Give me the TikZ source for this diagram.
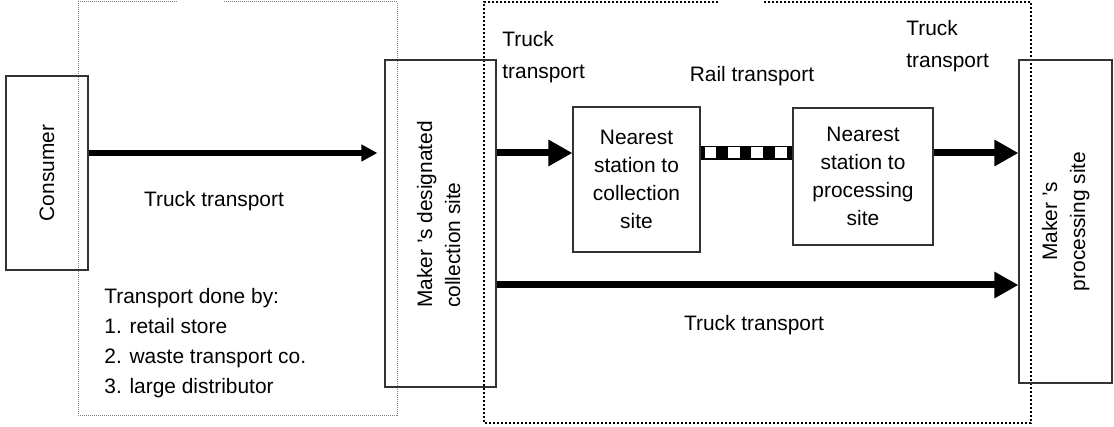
\documentclass[tikz,border=0pt]{standalone}
\usepackage{fontspec}
\setmainfont{Liberation Sans}
\usepackage{graphicx}
\usetikzlibrary{arrows.meta}
\tikzset{
  site/.style={draw=black!80, line width=0.6pt, inner sep=0pt, align=center},
  carry/.style={line width=3pt, -{Triangle[length=8pt,width=8pt]}},
  bigcarry/.style={line width=3.5pt, -{Triangle[length=12pt,width=12.5pt]}},
  lbl/.style={inner sep=0pt}
}
\begin{document}
\begin{tikzpicture}[x=0.5pt, y=-0.5pt, font=\fontsize{10.45}{14}\selectfont]
    \useasboundingbox (0,0) rectangle (1114,427);
    \draw[gray, line width=0.5pt, dash pattern=on 0.5pt off 0.5pt] (177,2) -- (78,2) -- (78,415) -- (397,415) -- (397,2) -- (223,2);
    \draw[line width=1pt, dash pattern=on 1pt off 1pt] (718,2) -- (484,2) -- (484,423) -- (1031,423) -- (1031,2) -- (763,2);

    \node[site, minimum width=41pt, minimum height=97pt] (cons) at (47,173) {\rotatebox{90}{Consumer}};
    \node[site, minimum width=55.5pt, minimum height=163.5pt] (coll) at (440.5,223.5)
        {\rotatebox{90}{\begin{tabular}{@{\hspace{9pt}}l@{}}Maker ’s designated\\collection site\end{tabular}}};
    \node[site, minimum width=63.5pt, minimum height=72.5pt] (st1) at (636.5,179.5) {Nearest\\station to\\collection\\site};
    \node[site, minimum width=70pt, minimum height=68.5pt] (st2) at (863,176.5) {Nearest\\station to\\processing\\site};
    \node[site, minimum width=46.5pt, minimum height=161.5pt] (proc) at (1065.5,221.5)
        {\rotatebox{90}{\begin{tabular}{@{}c@{}}Maker ’s\\processing site\end{tabular}}};

    \coordinate (row1) at (0,153);
    \coordinate (row2) at (0,285);
    \draw[carry, shorten >=3.5pt] (cons.east |- row1) -- (coll.west |- row1);
    \draw[bigcarry] (coll.east |- row1) -- (st1.west |- row1);
    \draw[line width=7pt] (st1.east |- row1) -- (st2.west |- row1);
    \draw[white, line width=5.5pt, dash pattern=on 5.85pt off 5.85pt, shorten <=2pt] (st1.east |- row1) -- (st2.west |- row1);
    \draw[bigcarry] (st2.east |- row1) -- (proc.west |- row1);
    \draw[bigcarry] (coll.east |- row2) -- (proc.west |- row2);

    \node[lbl, anchor=base] (trk1) at (214,207) {Truck transport};
    \node[lbl, anchor=north west, align=left, font=\fontsize{10.45}{15}\selectfont] (done) at (104,288)
        {Transport done by:\\1. retail store\\2. waste transport co.\\3. large distributor};
    \node[lbl, anchor=north west, align=left, font=\fontsize{10.45}{16}\selectfont] (trk2) at (502,31) {Truck\\transport};
    \node[lbl, anchor=base] (rail) at (752,82) {Rail transport};
    \node[lbl, anchor=north west, align=left, font=\fontsize{10.45}{16}\selectfont] (trk3) at (906,20) {Truck\\transport};
    \node[lbl, anchor=base] (trk4) at (754,330) {Truck transport};
\end{tikzpicture}
\end{document}
